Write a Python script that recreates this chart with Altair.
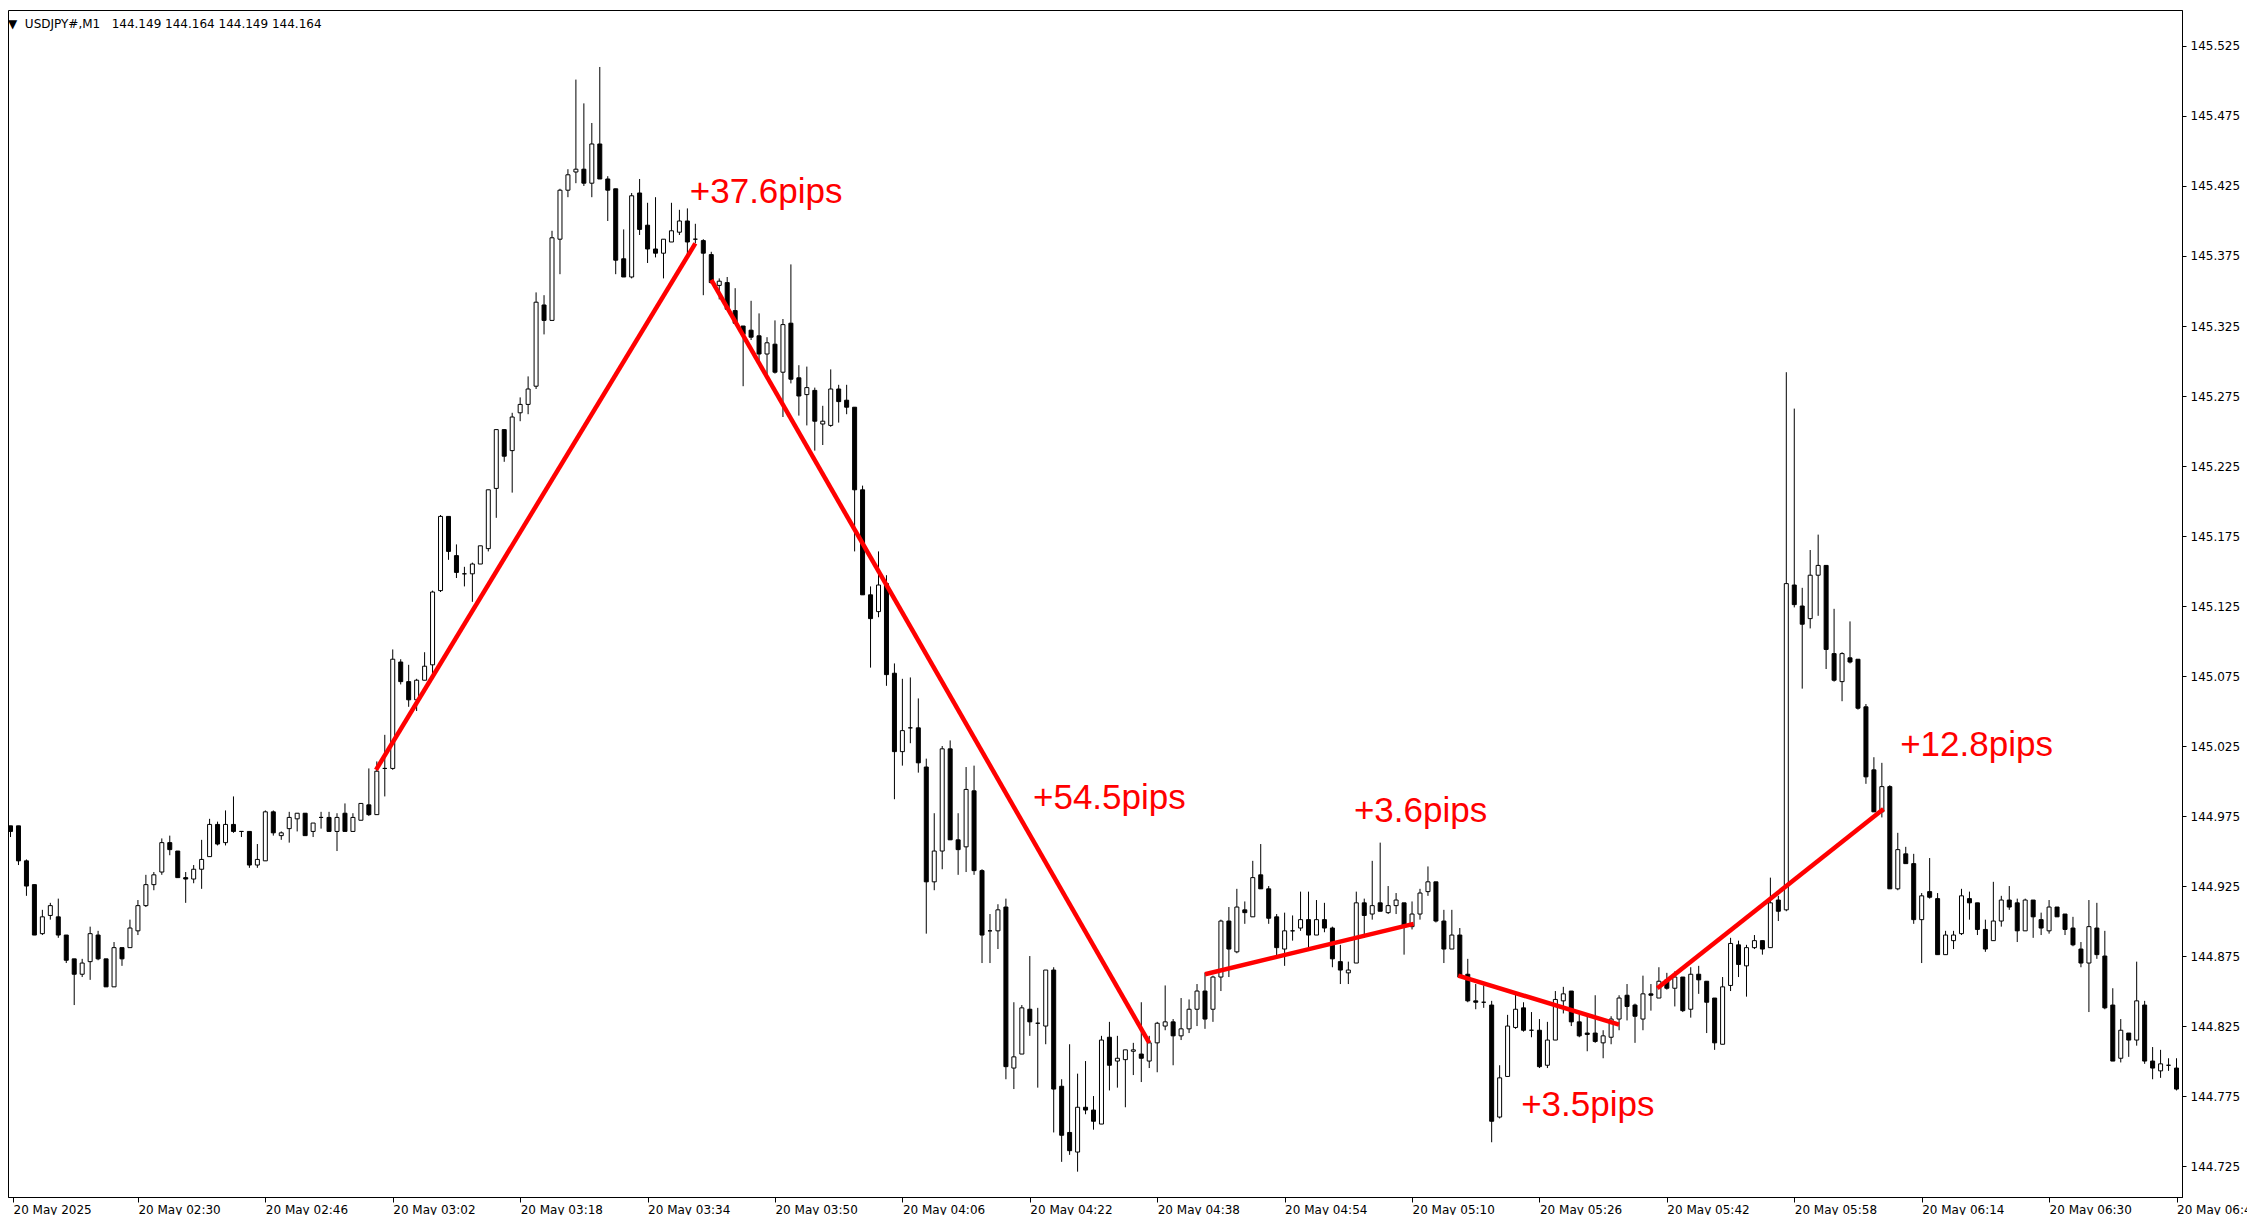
import json
import altair as alt
import pandas as pd

# ---- M1 candles, 20 May 2025 02:14 .. 06:46 (index = minute offset) ----
opens = [
144.968,144.968,144.943,144.926,144.891,144.904,144.903,144.890,144.873,144.862,
144.871,144.890,144.873,144.853,144.881,144.881,144.893,144.911,144.926,144.935,
144.956,144.950,144.931,144.930,144.937,144.946,144.969,144.956,144.969,144.964,
144.964,144.940,144.943,144.978,144.961,144.966,144.973,144.977,144.964,144.974,
144.974,144.964,144.977,144.964,144.972,144.983,144.976,145.009,145.009,145.085,
145.071,145.058,145.072,145.083,145.136,145.189,145.161,145.148,145.148,145.155,
145.166,145.209,145.251,145.236,145.263,145.269,145.282,145.340,145.329,145.387,
145.422,145.435,145.437,145.427,145.455,145.430,145.423,145.373,145.360,145.420,
145.397,145.380,145.377,145.385,145.392,145.400,145.387,145.386,145.376,145.354,
145.356,145.336,145.325,145.322,145.318,145.305,145.312,145.292,145.327,145.288,
145.276,145.279,145.255,145.254,145.280,145.272,145.267,145.208,145.133,145.121,
145.141,145.077,145.021,145.038,145.038,145.010,144.928,144.950,145.023,144.958,
144.953,144.993,144.936,144.893,144.893,144.910,144.795,144.805,144.837,144.827,
144.825,144.865,144.782,144.749,144.735,144.767,144.765,144.755,144.817,144.800,
144.801,144.807,144.805,144.800,144.813,144.825,144.828,144.818,144.823,144.837,
144.850,144.837,144.860,144.900,144.878,144.908,144.903,144.933,144.923,144.903,
144.880,144.893,144.895,144.901,144.890,144.901,144.895,144.871,144.863,144.870,
144.913,144.905,144.913,144.906,144.911,144.913,144.896,144.905,144.921,144.928,
144.900,144.880,144.890,144.862,144.843,144.842,144.840,144.760,144.789,144.824,
144.838,144.822,144.822,144.797,144.815,144.843,144.850,144.828,144.820,144.820,
144.813,144.817,144.830,144.847,144.840,144.830,144.848,144.845,144.858,144.852,
144.860,144.837,144.862,144.857,144.845,144.812,144.854,144.883,144.868,144.881,
144.886,144.881,144.915,144.908,145.140,145.125,145.116,145.147,145.154,145.091,
145.071,145.088,145.087,145.053,145.008,144.978,144.996,144.923,144.948,144.941,
144.901,144.921,144.916,144.876,144.886,144.891,144.916,144.913,144.894,144.886,
144.900,144.915,144.913,144.893,144.915,144.901,144.893,144.910,144.905,144.895,
144.880,144.870,144.895,144.875,144.840,144.802,144.820,144.815,144.840,144.800,
144.793,144.797,144.795]

highs = [
144.968,144.968,144.944,144.926,144.908,144.913,144.916,144.890,144.873,144.873,
144.896,144.893,144.873,144.885,144.881,144.901,144.915,144.933,144.935,144.959,
144.961,144.950,144.935,144.940,144.958,144.973,144.971,144.979,144.989,144.964,
144.964,144.955,144.979,144.979,144.964,144.978,144.977,144.977,144.970,144.978,
144.978,144.977,144.984,144.977,144.984,145.009,145.014,145.033,145.094,145.087,
145.083,145.073,145.092,145.136,145.190,145.189,145.169,145.153,145.156,145.168,
145.208,145.251,145.251,145.263,145.274,145.289,145.349,145.347,145.393,145.423,
145.437,145.501,145.484,145.470,145.510,145.432,145.423,145.394,145.420,145.430,
145.413,145.417,145.387,145.413,145.408,145.409,145.398,145.387,145.378,145.359,
145.360,145.352,145.325,145.343,145.334,145.317,145.329,145.330,145.369,145.297,
145.296,145.281,145.268,145.294,145.283,145.283,145.267,145.211,145.139,145.164,
145.147,145.084,145.073,145.074,145.059,145.016,144.977,145.025,145.029,144.977,
145.010,145.011,144.937,144.905,144.912,144.916,144.842,144.840,144.875,144.838,
144.865,144.867,144.787,144.812,144.791,144.800,144.775,144.818,144.828,144.818,
144.808,144.813,144.842,144.818,144.828,144.854,144.830,144.845,144.844,144.855,
144.863,144.861,144.901,144.910,144.923,144.914,144.943,144.955,144.925,144.905,
144.906,144.904,144.921,144.921,144.915,144.913,144.896,144.883,144.871,144.921,
144.916,144.943,144.956,144.925,144.920,144.913,144.914,144.923,144.939,144.928,
144.908,144.908,144.895,144.873,144.855,144.854,144.843,144.797,144.833,144.848,
144.842,144.835,144.830,144.828,144.850,144.853,144.850,144.835,144.834,144.847,
144.822,144.832,144.847,144.855,144.841,144.861,144.855,144.867,144.863,144.864,
144.860,144.867,144.868,144.857,144.845,144.860,144.888,144.886,144.883,144.890,
144.886,144.931,144.918,145.292,145.266,145.138,145.165,145.176,145.154,145.123,
145.092,145.114,145.087,145.055,145.017,145.013,144.997,144.963,144.953,144.948,
144.920,144.945,144.920,144.893,144.893,144.923,144.921,144.913,144.901,144.928,
144.918,144.925,144.916,144.916,144.915,144.906,144.915,144.910,144.905,144.903,
144.885,144.915,144.913,144.893,144.852,144.830,144.820,144.871,144.843,144.810,
144.808,144.802,144.802]

lows = [
144.960,144.940,144.918,144.890,144.890,144.901,144.888,144.870,144.840,144.860,
144.858,144.872,144.853,144.853,144.868,144.881,144.890,144.910,144.922,144.933,
144.947,144.931,144.913,144.927,144.923,144.946,144.954,144.954,144.963,144.960,
144.938,144.938,144.943,144.961,144.958,144.956,144.964,144.961,144.960,144.966,
144.964,144.950,144.964,144.964,144.972,144.975,144.976,144.989,145.008,145.069,
145.053,145.050,145.072,145.077,145.135,145.158,145.145,145.139,145.128,145.155,
145.164,145.188,145.228,145.206,145.257,145.262,145.280,145.319,145.329,145.362,
145.417,145.427,145.425,145.417,145.430,145.400,145.362,145.360,145.359,145.390,
145.370,145.374,145.359,145.385,145.390,145.376,145.384,145.347,145.355,145.344,
145.337,145.327,145.282,145.315,145.300,145.288,145.291,145.260,145.284,145.261,
145.254,145.236,145.240,145.253,145.256,145.262,145.164,145.133,145.081,145.117,
145.068,144.987,145.011,145.027,145.006,144.891,144.922,144.937,144.958,144.933,
144.935,144.933,144.870,144.870,144.880,144.787,144.780,144.805,144.818,144.781,
144.812,144.749,144.728,144.733,144.721,144.762,144.751,144.755,144.779,144.781,
144.767,144.790,144.785,144.795,144.792,144.822,144.797,144.815,144.820,144.825,
144.823,144.828,144.850,144.860,144.877,144.898,144.903,144.923,144.898,144.875,
144.868,144.886,144.893,144.881,144.890,144.892,144.867,144.855,144.855,144.870,
144.888,144.901,144.907,144.905,144.905,144.876,144.894,144.901,144.918,144.899,
144.870,144.880,144.860,144.842,144.837,144.838,144.742,144.759,144.789,144.823,
144.821,144.817,144.795,144.795,144.815,144.834,144.825,144.817,144.807,144.813,
144.802,144.812,144.822,144.829,144.813,144.822,144.836,144.845,144.851,144.839,
144.835,144.831,144.848,144.820,144.808,144.812,144.850,144.860,144.846,144.880,
144.876,144.881,144.900,144.907,145.124,145.066,145.109,145.118,145.080,145.071,
145.057,145.084,145.051,144.998,144.978,144.974,144.923,144.922,144.941,144.898,
144.870,144.916,144.876,144.876,144.880,144.890,144.901,144.890,144.878,144.886,
144.896,144.908,144.885,144.893,144.888,144.890,144.891,144.903,144.890,144.882,
144.867,144.835,144.873,144.837,144.800,144.799,144.803,144.811,144.798,144.787,
144.788,144.793,144.779]

closes = [
144.964,144.943,144.925,144.890,144.903,144.911,144.890,144.872,144.862,144.870,
144.891,144.873,144.853,144.881,144.873,144.895,144.911,144.926,144.933,144.956,
144.951,144.931,144.930,144.937,144.944,144.969,144.955,144.969,144.964,144.964,
144.940,144.944,144.978,144.963,144.963,144.974,144.977,144.961,144.970,144.974,
144.964,144.974,144.964,144.974,144.984,144.976,145.007,145.009,145.087,145.071,
145.058,145.072,145.082,145.135,145.189,145.164,145.149,145.148,145.155,145.168,
145.208,145.251,145.232,145.260,145.269,145.280,145.342,145.329,145.388,145.422,
145.433,145.437,145.427,145.455,145.430,145.422,145.372,145.360,145.418,145.394,
145.380,145.377,145.387,145.393,145.400,145.385,145.387,145.377,145.356,145.357,
145.337,145.327,145.319,145.317,145.305,145.313,145.292,145.326,145.287,145.275,
145.281,145.257,145.257,145.280,145.271,145.267,145.208,145.133,145.116,145.140,
145.076,145.021,145.036,145.038,145.013,144.928,144.950,145.023,144.958,144.951,
144.994,144.936,144.890,144.893,144.908,144.796,144.803,144.838,144.828,144.827,
144.865,144.780,144.747,144.736,144.767,144.765,144.757,144.815,144.797,144.802,
144.808,144.808,144.802,144.813,144.827,144.828,144.818,144.823,144.837,144.850,
144.830,144.860,144.900,144.880,144.910,144.906,144.931,144.923,144.902,144.881,
144.893,144.893,144.901,144.890,144.901,144.895,144.873,144.865,144.865,144.913,
144.904,144.911,144.907,144.911,144.915,144.896,144.905,144.920,144.928,144.900,
144.880,144.890,144.860,144.843,144.842,144.842,144.757,144.788,144.825,144.837,
144.822,144.822,144.796,144.815,144.844,144.848,144.828,144.818,144.819,144.814,
144.818,144.830,144.845,144.839,144.832,144.848,144.847,144.857,144.852,144.860,
144.836,144.862,144.858,144.842,144.813,144.853,144.884,144.869,144.881,144.886,
144.880,144.913,144.907,145.141,145.126,145.112,145.147,145.154,145.094,145.072,
145.091,145.085,145.052,145.003,144.978,144.996,144.923,144.951,144.941,144.901,
144.918,144.917,144.876,144.890,144.890,144.918,144.913,144.894,144.880,144.900,
144.915,144.910,144.893,144.915,144.903,144.895,144.910,144.903,144.894,144.883,
144.870,144.896,144.876,144.838,144.800,144.822,144.815,144.843,144.800,144.795,
144.798,144.797,144.780]

# ---- annotation segments (bar index, price) ----
seg_x1 = [45.9, 88.0, 150.0, 181.8, 206.8]
seg_y1 = [145.008, 145.358, 144.862, 144.861, 144.852]
seg_x2 = [86.0, 143.0, 176.2, 202.0, 235.2]
seg_y2 = [145.384, 144.813, 144.898, 144.826, 144.980]

label_text = ["+37.6pips", "+54.5pips", "+3.6pips", "+3.5pips", "+12.8pips"]
label_x = [85.3, 128.4, 168.7, 189.7, 237.3]
label_y = [145.413, 144.980, 144.971, 144.761, 145.018]

# ---- axes ----
time_labels = ["20 May 2025", "20 May 02:30", "20 May 02:46", "20 May 03:02",
               "20 May 03:18", "20 May 03:34", "20 May 03:50", "20 May 04:06",
               "20 May 04:22", "20 May 04:38", "20 May 04:54", "20 May 05:10",
               "20 May 05:26", "20 May 05:42", "20 May 05:58", "20 May 06:14",
               "20 May 06:30", "20 May 06:46"]
price_ticks = [144.725, 144.775, 144.825, 144.875, 144.925, 144.975, 145.025,
               145.075, 145.125, 145.175, 145.225, 145.275, 145.325, 145.375,
               145.425, 145.475, 145.525]
header = "\u25BC\u00a0\u00a0USDJPY#,M1\u00a0\u00a0\u00a0144.149 144.164 144.149 144.164"

X0, X1 = 0.3125, 272.0625
Y0, Y1 = 144.7029, 145.5507
x_ticks = [X0] + [16 * i for i in range(1, 18)]

candles = pd.DataFrame({
    "k": list(range(len(opens))),
    "open": opens, "high": highs, "low": lows, "close": closes,
})
candles["dir"] = ["up" if c > o else "down" for o, c in zip(opens, closes)]
segs = pd.DataFrame({"x1": seg_x1, "y1": seg_y1, "x2": seg_x2, "y2": seg_y2})
labs = pd.DataFrame({"t": label_text, "tx": label_x, "ty": label_y})

xscale = alt.Scale(domain=[X0, X1], nice=False, zero=False)
yscale = alt.Scale(domain=[Y0, Y1], nice=False, zero=False)

xaxis = alt.Axis(
    values=x_ticks, title=None, grid=False, orient="bottom",
    labelExpr=json.dumps(time_labels) + "[round(datum.value/16)]",
    labelAlign="left", labelBaseline="top", labelPadding=2,
    tickSize=5, tickColor="black", domainColor="black",
    labelFont="DejaVu Sans", labelFontSize=12, labelColor="black",
    labelOverlap=False, labelFlush=False, labelBound=False,
)
yaxis = alt.Axis(
    values=price_ticks, format=".3f", title=None, grid=False, orient="right",
    tickSize=4, tickColor="black", domainColor="black", labelPadding=4,
    labelFont="DejaVu Sans", labelFontSize=12, labelColor="black",
    labelOverlap=False, labelFlush=False, labelBound=False,
)

base = alt.Chart(candles)

wicks = base.mark_rule(color="black", strokeWidth=1, clip=True).encode(
    x=alt.X("k:Q", scale=xscale, axis=xaxis),
    y=alt.Y("low:Q", scale=yscale, axis=yaxis),
    y2="high:Q",
)

bodies = base.mark_bar(size=4, stroke="black", strokeWidth=1, clip=True).encode(
    x=alt.X("k:Q", scale=xscale),
    y=alt.Y("open:Q", scale=yscale),
    y2="close:Q",
    fill=alt.Fill("dir:N", scale=alt.Scale(domain=["up", "down"], range=["white", "black"]), legend=None),
)

lines = alt.Chart(segs).mark_rule(color="#ff0000", strokeWidth=4.5, strokeCap="butt").encode(
    x=alt.X("x1:Q", scale=xscale),
    x2="x2:Q",
    y=alt.Y("y1:Q", scale=yscale),
    y2="y2:Q",
)

texts = alt.Chart(labs).mark_text(
    align="left", baseline="alphabetic", font="Liberation Sans", fontSize=35, color="#ff0000"
).encode(
    x=alt.X("tx:Q", scale=xscale),
    y=alt.Y("ty:Q", scale=yscale),
    text="t:N",
)

chart = alt.layer(wicks, bodies, lines, texts).properties(
    width=2174, height=1187,
    padding={"left": 0, "top": 2, "right": 65, "bottom": 18},
    autosize=alt.AutoSizeParams(type="none"),
    background="white",
    title=alt.TitleParams(
        text=header, anchor="start", orient="top", offset=0, dy=30, dx=0,
        baseline="alphabetic", font="DejaVu Sans", fontSize=12,
        fontWeight="normal", color="black",
    ),
).configure_view(stroke="black", strokeWidth=1)

chart.save("out.html", embed_options={"renderer": "svg", "actions": False})
